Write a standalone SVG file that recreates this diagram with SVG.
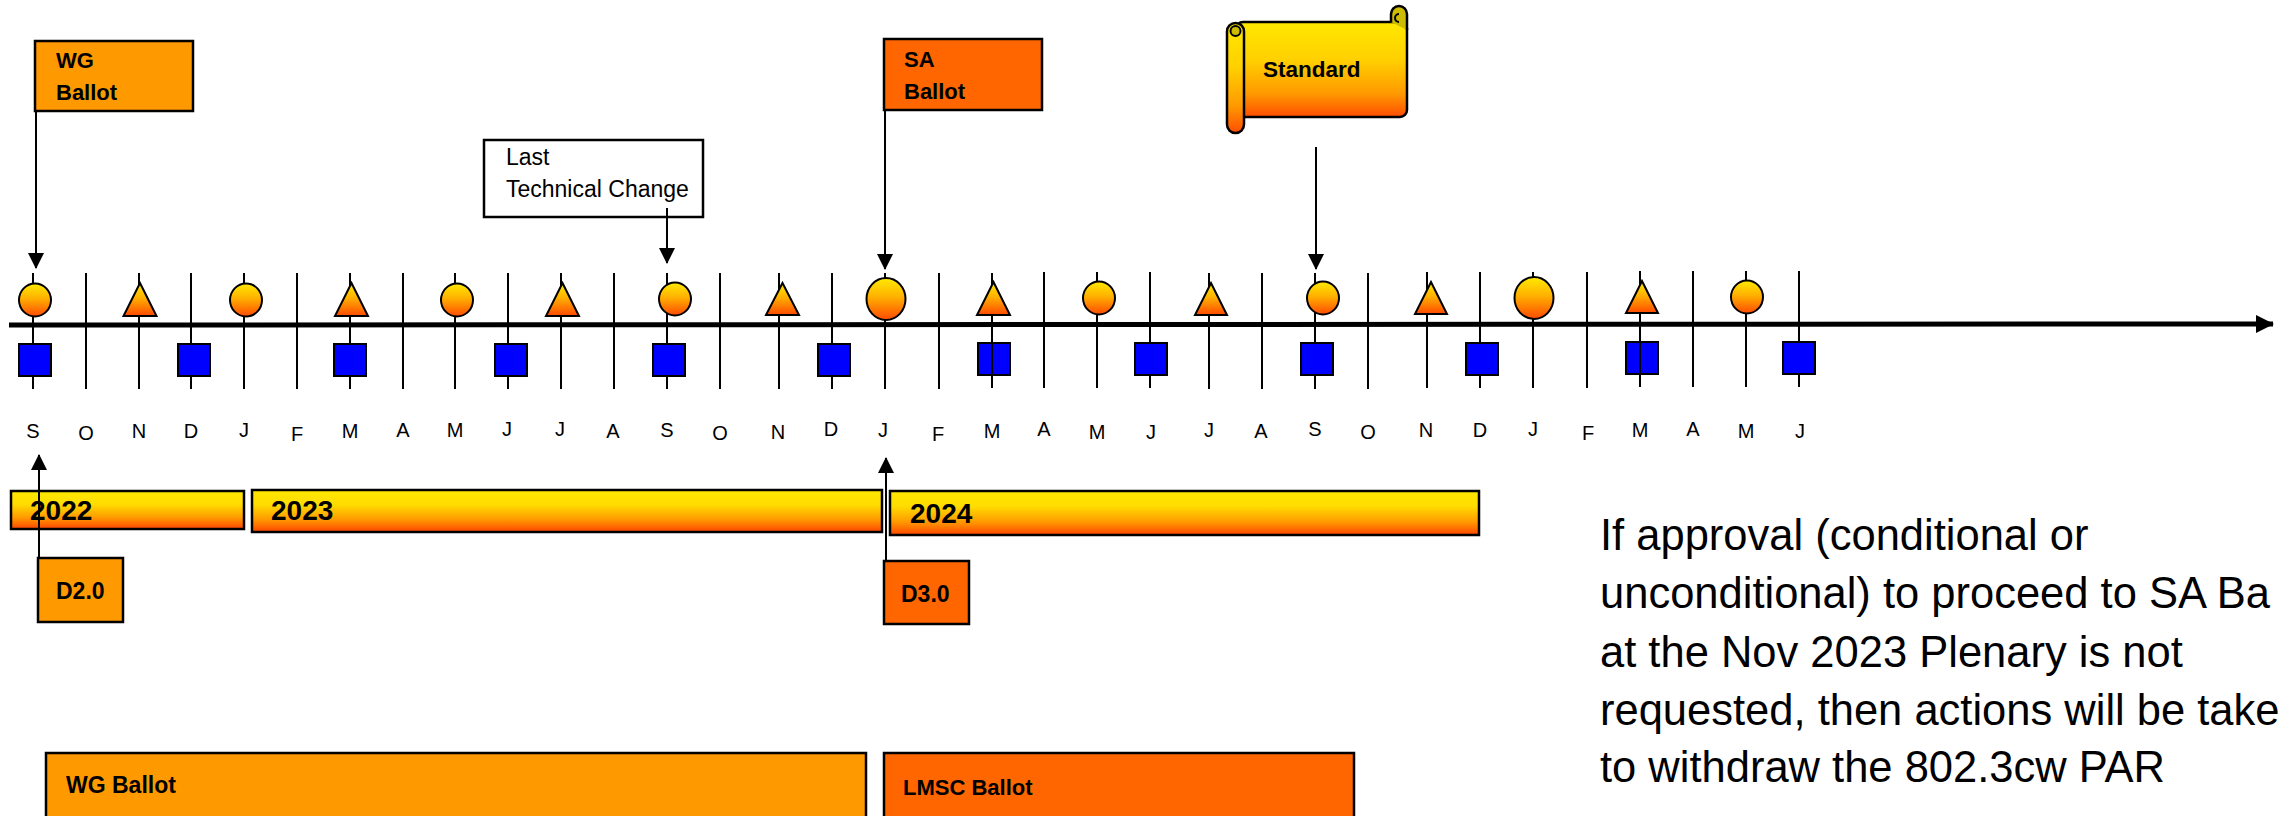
<svg xmlns="http://www.w3.org/2000/svg" width="2280" height="816" viewBox="0 0 2280 816">
<defs>
<linearGradient id="gBall" x1="0" y1="0" x2="0" y2="1">
<stop offset="0" stop-color="#FFEA00"/><stop offset="0.45" stop-color="#FFB000"/><stop offset="1" stop-color="#FF4A00"/>
</linearGradient>
<linearGradient id="gBar" x1="0" y1="0" x2="0" y2="1">
<stop offset="0" stop-color="#FFE800"/><stop offset="0.35" stop-color="#FFDC00"/><stop offset="0.7" stop-color="#FF9A00"/><stop offset="1" stop-color="#FF4500"/>
</linearGradient>
<linearGradient id="gScroll" x1="0" y1="0" x2="0" y2="1">
<stop offset="0" stop-color="#FFE800"/><stop offset="0.4" stop-color="#FFD000"/><stop offset="0.75" stop-color="#FF9A00"/><stop offset="1" stop-color="#FF4D00"/>
</linearGradient>
<marker id="ah" markerUnits="userSpaceOnUse" markerWidth="16" markerHeight="16" viewBox="0 0 16 16" refX="15" refY="8" orient="auto">
<path d="M0,0 L16,8 L0,16 Z" fill="#000"/>
</marker>
<marker id="ahBig" markerUnits="userSpaceOnUse" markerWidth="18" markerHeight="18" viewBox="0 0 18 18" refX="17" refY="9" orient="auto">
<path d="M0,0 L18,9 L0,18 Z" fill="#000"/>
</marker>
</defs>
<style>
.tick{stroke:#000;stroke-width:2}
.ball{fill:url(#gBall);stroke:#000;stroke-width:2}
.sq{fill:#0000FF;stroke:#000;stroke-width:2}
.bar{fill:url(#gBar);stroke:#000;stroke-width:2.5}
.o1{fill:#FF9900;stroke:#000;stroke-width:2.5}
.o2{fill:#FF6600;stroke:#000;stroke-width:2.5}
.b{font-family:"Liberation Sans",Arial,sans-serif;font-weight:bold;fill:#000}
.r{font-family:"Liberation Sans",Arial,sans-serif;fill:#000}
.m{font-family:"Liberation Sans",Arial,sans-serif;font-size:20px;fill:#000;text-anchor:middle}
.con{stroke:#000;stroke-width:2;fill:none}
</style>
<rect width="2280" height="816" fill="#fff"/>

<g id="ticks">
<line class="tick" x1="33" y1="273" x2="33" y2="389"/>
<line class="tick" x1="86" y1="273" x2="86" y2="389"/>
<line class="tick" x1="139" y1="273" x2="139" y2="389"/>
<line class="tick" x1="191" y1="273" x2="191" y2="389"/>
<line class="tick" x1="244" y1="273" x2="244" y2="389"/>
<line class="tick" x1="297" y1="273" x2="297" y2="389"/>
<line class="tick" x1="350" y1="273" x2="350" y2="389"/>
<line class="tick" x1="403" y1="273" x2="403" y2="389"/>
<line class="tick" x1="455" y1="273" x2="455" y2="389"/>
<line class="tick" x1="508" y1="273" x2="508" y2="389"/>
<line class="tick" x1="561" y1="273" x2="561" y2="389"/>
<line class="tick" x1="614" y1="273" x2="614" y2="389"/>
<line class="tick" x1="667" y1="273" x2="667" y2="389"/>
<line class="tick" x1="720" y1="273" x2="720" y2="389"/>
<line class="tick" x1="779" y1="273" x2="779" y2="389"/>
<line class="tick" x1="832" y1="273" x2="832" y2="389"/>
<line class="tick" x1="885" y1="273" x2="885" y2="389"/>
<line class="tick" x1="939" y1="273" x2="939" y2="389"/>
<line class="tick" x1="992" y1="273" x2="992" y2="388"/>
<line class="tick" x1="1044" y1="272" x2="1044" y2="388"/>
<line class="tick" x1="1097" y1="272" x2="1097" y2="388"/>
<line class="tick" x1="1150" y1="272" x2="1150" y2="388"/>
<line class="tick" x1="1209" y1="273" x2="1209" y2="389"/>
<line class="tick" x1="1262" y1="273" x2="1262" y2="389"/>
<line class="tick" x1="1315" y1="273" x2="1315" y2="389"/>
<line class="tick" x1="1368" y1="273" x2="1368" y2="389"/>
<line class="tick" x1="1427" y1="272" x2="1427" y2="388"/>
<line class="tick" x1="1480" y1="272" x2="1480" y2="388"/>
<line class="tick" x1="1533" y1="272" x2="1533" y2="388"/>
<line class="tick" x1="1587" y1="272" x2="1587" y2="388"/>
<line class="tick" x1="1640" y1="271" x2="1640" y2="387"/>
<line class="tick" x1="1693" y1="271" x2="1693" y2="387"/>
<line class="tick" x1="1746" y1="271" x2="1746" y2="387"/>
<line class="tick" x1="1799" y1="271" x2="1799" y2="387"/>
</g>

<g id="axis">
<line x1="9" y1="325" x2="2273" y2="324" stroke="#000" stroke-width="5" marker-end="url(#ahBig)"/>
</g>

<g id="meetings">
<ellipse class="ball" cx="35" cy="300" rx="16" ry="16.5"/>
<ellipse class="ball" cx="246" cy="300" rx="16" ry="16.5"/>
<ellipse class="ball" cx="457" cy="300" rx="16" ry="16.5"/>
<ellipse class="ball" cx="675" cy="299" rx="16" ry="16.5"/>
<ellipse class="ball" cx="886" cy="299" rx="19.5" ry="21"/>
<ellipse class="ball" cx="1099" cy="298" rx="16" ry="16.5"/>
<ellipse class="ball" cx="1323" cy="298" rx="16" ry="16.5"/>
<ellipse class="ball" cx="1534" cy="298" rx="19.5" ry="21"/>
<ellipse class="ball" cx="1747" cy="297" rx="16" ry="16.5"/>
<polygon class="ball" points="140,283 156.5,316 123.5,316"/>
<polygon class="ball" points="351.5,283 368,316 335,316"/>
<polygon class="ball" points="562.5,283 579,316 546,316"/>
<polygon class="ball" points="782.5,283 799,315 766,315"/>
<polygon class="ball" points="993.5,282 1010,315 977,315"/>
<polygon class="ball" points="1211,283 1227,315 1195,315"/>
<polygon class="ball" points="1431,282 1447,314 1415,314"/>
<polygon class="ball" points="1642,281 1658,313 1626,313"/>
<rect class="sq" x="19" y="344" width="32" height="32"/>
<rect class="sq" x="178" y="344" width="32" height="32"/>
<rect class="sq" x="334" y="344" width="32" height="32"/>
<rect class="sq" x="495" y="344" width="32" height="32"/>
<rect class="sq" x="653" y="344" width="32" height="32"/>
<rect class="sq" x="818" y="344" width="32" height="32"/>
<rect class="sq" x="978" y="343" width="32" height="32"/>
<rect class="sq" x="1135" y="343" width="32" height="32"/>
<rect class="sq" x="1301" y="343" width="32" height="32"/>
<rect class="sq" x="1466" y="343" width="32" height="32"/>
<rect class="sq" x="1626" y="342" width="32" height="32"/>
<rect class="sq" x="1783" y="342" width="32" height="32"/>
<line class="tick" x1="992" y1="343" x2="992" y2="375"/>
<line class="tick" x1="1640" y1="342" x2="1640" y2="374"/>
</g>

<g id="months">
<text class="m" x="33" y="438">S</text>
<text class="m" x="86" y="440">O</text>
<text class="m" x="139" y="438">N</text>
<text class="m" x="191" y="438">D</text>
<text class="m" x="244" y="437">J</text>
<text class="m" x="297" y="441">F</text>
<text class="m" x="350" y="438">M</text>
<text class="m" x="403" y="437">A</text>
<text class="m" x="455" y="437">M</text>
<text class="m" x="507" y="436">J</text>
<text class="m" x="560" y="436">J</text>
<text class="m" x="613" y="438">A</text>
<text class="m" x="667" y="437">S</text>
<text class="m" x="720" y="440">O</text>
<text class="m" x="778" y="439">N</text>
<text class="m" x="831" y="436">D</text>
<text class="m" x="883" y="437">J</text>
<text class="m" x="938" y="441">F</text>
<text class="m" x="992" y="438">M</text>
<text class="m" x="1044" y="436">A</text>
<text class="m" x="1097" y="439">M</text>
<text class="m" x="1151" y="439">J</text>
<text class="m" x="1209" y="437">J</text>
<text class="m" x="1261" y="438">A</text>
<text class="m" x="1315" y="436">S</text>
<text class="m" x="1368" y="439">O</text>
<text class="m" x="1426" y="437">N</text>
<text class="m" x="1480" y="437">D</text>
<text class="m" x="1533" y="436">J</text>
<text class="m" x="1588" y="440">F</text>
<text class="m" x="1640" y="437">M</text>
<text class="m" x="1693" y="436">A</text>
<text class="m" x="1746" y="438">M</text>
<text class="m" x="1800" y="438">J</text>
</g>

<g id="wg-ballot-flag">
<rect class="o1" x="35" y="41" width="158" height="70"/>
<text class="b" x="56" y="68" font-size="22">WG</text>
<text class="b" x="56" y="100" font-size="22">Ballot</text>
</g>

<g id="last-technical-change">
<rect x="484" y="140" width="219" height="77" fill="#fff" stroke="#000" stroke-width="2.5"/>
<text class="r" x="506" y="165" font-size="23">Last</text>
<text class="r" x="506" y="197" font-size="23">Technical Change</text>
</g>

<g id="sa-ballot-flag">
<rect class="o2" x="884" y="39" width="158" height="71"/>
<text class="b" x="904" y="67" font-size="22">SA</text>
<text class="b" x="904" y="99" font-size="22">Ballot</text>
</g>

<g id="standard">
<rect x="1236" y="22" width="171" height="95" rx="7" fill="url(#gScroll)" stroke="#000" stroke-width="2.5"/>
<path d="M1391,22 V14 A8,8 0 1 1 1407,14 V30" fill="#CDBB00" stroke="#000" stroke-width="2.5"/>
<path d="M1399,22 A4,4 0 0 1 1399,14" fill="none" stroke="#000" stroke-width="2"/>
<rect x="1227" y="23" width="17" height="110" rx="8.5" fill="url(#gScroll)" stroke="#000" stroke-width="2.5"/>
<circle cx="1235.5" cy="31" r="5" fill="#CDBB00" stroke="#000" stroke-width="2"/>
<text class="b" x="1263" y="77" font-size="22.5">Standard</text>
</g>

<g id="year-2022">
<rect class="bar" x="11" y="491" width="233" height="38"/>
<text class="b" x="30" y="520" font-size="28">2022</text>
</g>
<g id="year-2023">
<rect class="bar" x="252" y="490" width="630" height="42"/>
<text class="b" x="271" y="520" font-size="28">2023</text>
</g>
<g id="year-2024">
<rect class="bar" x="890" y="491" width="589" height="44"/>
<text class="b" x="910" y="523" font-size="28">2024</text>
</g>

<g id="d20">
<rect class="o1" x="38" y="558" width="85" height="64"/>
<text class="b" x="56" y="599" font-size="23">D2.0</text>
</g>
<g id="d30">
<rect class="o2" x="884" y="561" width="85" height="63"/>
<text class="b" x="901" y="602" font-size="23">D3.0</text>
</g>

<g id="wg-ballot-bar">
<rect class="o1" x="46" y="753" width="820" height="80"/>
<text class="b" x="66" y="793" font-size="23">WG Ballot</text>
</g>
<g id="lmsc-ballot-bar">
<rect class="o2" x="884" y="753" width="470" height="80"/>
<text class="b" x="903" y="795" font-size="22">LMSC Ballot</text>
</g>

<g id="note">
<text class="r" font-size="43.5">
<tspan x="1600" y="550">If approval (conditional or</tspan>
<tspan x="1600" y="608">unconditional) to proceed to SA Ba</tspan>
<tspan x="1600" y="667">at the Nov 2023 Plenary is not</tspan>
<tspan x="1600" y="725">requested, then actions will be take</tspan>
<tspan x="1600" y="782">to withdraw the 802.3cw PAR</tspan>
</text>
</g>

<g id="connectors">
<line class="con" x1="36" y1="111" x2="36" y2="268" marker-end="url(#ah)"/>
<line class="con" x1="667" y1="208" x2="667" y2="263" marker-end="url(#ah)"/>
<line class="con" x1="885" y1="110" x2="885" y2="269" marker-end="url(#ah)"/>
<line class="con" x1="1316" y1="147" x2="1316" y2="269" marker-end="url(#ah)"/>
<line class="con" x1="39" y1="558" x2="39" y2="455" marker-end="url(#ah)"/>
<line class="con" x1="886" y1="561" x2="886" y2="458" marker-end="url(#ah)"/>
</g>
</svg>
